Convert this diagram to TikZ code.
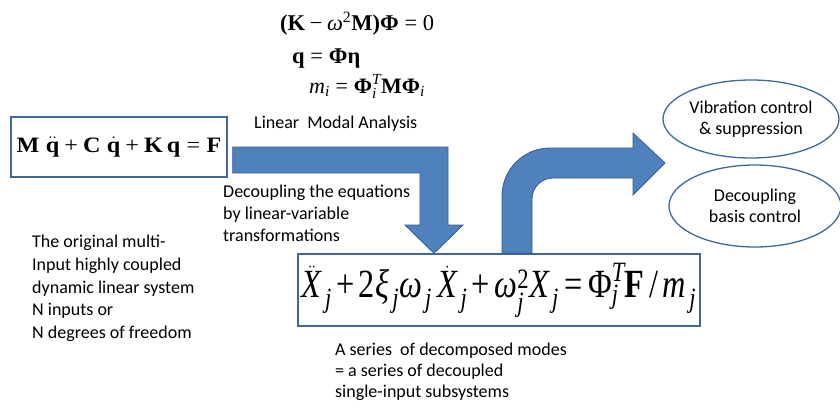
\documentclass[tikz,border=0pt]{standalone}
\usepackage{amsmath}
\usepackage{graphicx}
\usepackage{fontspec}
\usetikzlibrary{shapes.geometric}
\setmainfont{Carlito}
\newfontfamily\tms{Liberation Serif}
\newcommand\tb[1]{\text{\tms\bfseries #1}}
\newcommand\tit[1]{\text{\tms\itshape #1}}
\newcommand\tr[1]{\text{\tms #1}}
\newcommand\eqp{\mathbin{\tr{+}}}
\newcommand\eqe{\mathrel{\tr{=}}}
\newcommand\eqm{\mathbin{\tr{−}}}
\definecolor{arrowfill}{HTML}{4F81BD}
\definecolor{arrowline}{HTML}{385D8A}
\definecolor{boxline}{HTML}{41689C}
\begin{document}
\begin{tikzpicture}[x=1pt,y=-1pt,
  txt/.style={inner sep=0pt,align=left,font=\fontsize{18}{22}\selectfont},
  eqtxt/.style={anchor=base west,inner sep=0pt,font=\fontsize{22.5}{27}\selectfont},
  eqbox/.style={draw=boxline,line width=1.3pt,inner sep=0pt},
  oval/.style={ellipse,draw=boxline,line width=1.3pt,inner sep=0pt,align=center,font=\fontsize{18}{21}\selectfont},
  bigarrow/.style={fill=arrowfill,draw=arrowline,line width=0.8pt,line join=miter}]
\useasboundingbox (0,0) rectangle (840,410);

% top equations
\node[eqtxt] (e1) at (280,30)
  {$\tb{(K}\eqm\tit{ω}^{\tr{2}}\tb{M)Φ}\eqe\tr{0}$};
\node[eqtxt] (e2) at (292,63)
  {$\tb{q}\eqe\tb{Φη}$};
\node[eqtxt,font=\fontsize{22}{27}\selectfont] (e3) at (309,93)
  {$\tit{m}_{\tit{i}}\eqe\tb{Φ}_{\tit{i}}^{\tit{T}}\tb{MΦ}_{\tit{i}}$};
\node[anchor=base west,inner sep=0pt,font=\fontsize{18}{22}\selectfont] (lma) at (254,128)
  {Linear\ \ Modal Analysis};

% left equation box
\node[eqbox,minimum width=216pt,minimum height=60pt,font=\fontsize{22}{26}\selectfont] (sys) at (119,147)
  {\scalebox{1.1}[1]{$\tb{M}\;\ddot{\tb{q}}\eqp\tb{C}\;\dot{\tb{q}}\eqp\tb{K}\,\tb{q}\eqe\tb{F}$}};

% bottom equation box
\node[eqbox,minimum width=402pt,minimum height=72pt,font=\fontsize{40}{46}\selectfont] (modes) at (499,290)
  {\resizebox{394pt}{\height}{$\ddot{\tit{X}}_{\,\tit{j}}\eqp\tr{2}\tit{ξ}_{\,\tit{j}}\tit{ω}_{\,\tit{j}}\;\dot{\tit{X}}_{\,\tit{j}}\eqp\tit{ω}_{\tit{j}}^{\tr{2}}\tit{X}_{\,\tit{j}}\eqe\tr{Φ}_{\tit{j}}^{\tit{T}}\tb{F}\mathbin{\tr{/}}\tit{m}_{\,\tit{j}}$}};

% ellipses
\node[oval,minimum width=176pt,minimum height=78pt] (vib) at (751,119) {Vibration control\\\& suppression};
\node[oval,minimum width=172pt,minimum height=82pt] (dbc) at (755,206) {Decoupling\\basis control};

% bent arrow 1 (from left box down to bottom box)
\draw[bigarrow] (sys.east |- 0,147) ++(5,0) coordinate (a1s)
  -- (448,147) -- (448,225) -- (463,225) -- (modes.north -| 434,0) coordinate (a1t)
  -- (405,225) -- (420,225) -- (420,173) -- (a1s |- 0,173) -- cycle;

% bent arrow 2 (from bottom box up and right to ellipses)
\draw[bigarrow] (modes.north -| 502,0) coordinate (a2s) -- (502,196) arc (180:270:48) -- (633,148) -- (633,133)
  -- (665,163) coordinate (a2t) -- (633,195) -- (633,178) -- (553,178) arc (270:180:21) -- (modes.north -| 532,0) -- cycle;

% texts
\node[txt,anchor=north west] (dec) at (223,185) {Decoupling the equations\\by linear-variable\\transformations};
\node[txt,anchor=north west,font=\fontsize{18}{22.7}\selectfont] (orig) at (32,235)
  {The original multi-\\Input highly coupled\\dynamic linear system\\N inputs or\\N degrees of freedom};
\node[txt,anchor=north west,font=\fontsize{18}{21}\selectfont] (ser) at (335,343)
  {A series\ \ of decomposed modes\\= a series of decoupled\\single-input subsystems};
\end{tikzpicture}
\end{document}
